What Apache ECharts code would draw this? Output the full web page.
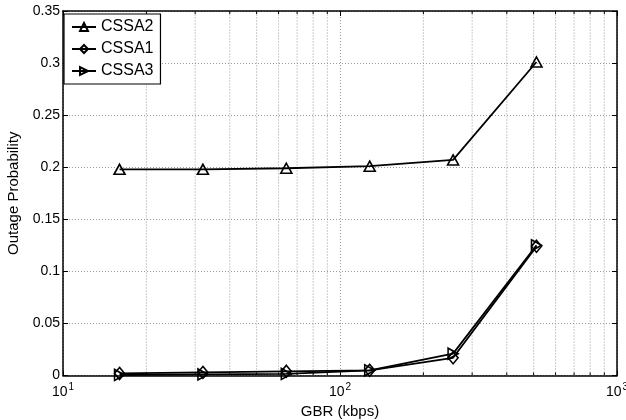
<!DOCTYPE html>
<html>
<head>
<meta charset="utf-8">
<script src="https://cdn.jsdelivr.net/npm/echarts@6/dist/echarts.min.js"></script>
<style>
  html, body { margin: 0; padding: 0; background: #fff; }
  #chart { width: 626px; height: 420px; }
</style>
</head>
<body>
<div id="chart"></div>
<script>
// Guaranteed bit rate values (kbps) on a log10 axis
const gbr = [16, 32, 64, 128, 256, 512];

// Outage probability per scheme
const cssa2 = [0.198, 0.198, 0.199, 0.201, 0.207, 0.301];
const cssa1 = [0.002, 0.003, 0.004, 0.005, 0.017, 0.124];
const cssa3 = [0.0005, 0.001, 0.0015, 0.005, 0.021, 0.125];

// Axis ranges and tick values
const xRange = [10, 1000];
const yRange = [0, 0.35];
const yStep = 0.05;
const minorX = [20, 30, 40, 50, 60, 70, 80, 90, 200, 300, 400, 500, 600, 700, 800, 900];

const FONT = 'Liberation Sans, Arial, Helvetica, sans-serif';
const BLACK = '#000';
const GRID_LINE = { color: '#9a9a9a', width: 1, type: [1, 2] };
const AXIS_LINE = { color: BLACK, width: 1.5 };

const pairs = (ys) => gbr.map((x, i) => [x, ys[i]]);

function lineSeries(name, ys, symbol, size, rotate) {
  return {
    name: name,
    type: 'line',
    data: pairs(ys),
    symbol: symbol,
    symbolSize: size,
    symbolRotate: rotate,
    showAllSymbol: true,
    z: 3,
    lineStyle: { color: BLACK, width: 1.8 },
    itemStyle: { color: 'rgba(255,255,255,0)', borderColor: BLACK, borderWidth: 1.6 },
    emphasis: { disabled: true },
    animation: false
  };
}

const chart = echarts.init(document.getElementById('chart'), null, { renderer: 'canvas' });

chart.setOption({
  backgroundColor: '#fff',
  animation: false,
  textStyle: { fontFamily: FONT, color: BLACK },
  grid: {
    left: 63, right: 9, top: 11, bottom: 44.5,
    containLabel: false,
    outerBoundsMode: 'none'
  },
  legend: {
    left: 64,
    top: 14,
    orient: 'vertical',
    data: ['CSSA2', 'CSSA1', 'CSSA3'],
    itemWidth: 24,
    itemHeight: 10,
    itemGap: 6,
    padding: [5, 7, 5, 7],
    backgroundColor: '#fff',
    borderColor: BLACK,
    borderWidth: 1.2,
    textStyle: { fontFamily: FONT, fontSize: 16, color: BLACK },
    selectedMode: false
  },
  xAxis: [
    {
      type: 'log',
      logBase: 10,
      min: xRange[0],
      max: xRange[1],
      position: 'bottom',
      name: 'GBR (kbps)',
      nameLocation: 'middle',
      nameGap: 20,
      nameTextStyle: { fontFamily: FONT, fontSize: 15, color: BLACK },
      axisLine: { onZero: false, lineStyle: AXIS_LINE },
      axisTick: { inside: true, length: 5, lineStyle: { color: BLACK } },
      axisLabel: {
        margin: 7,
        hideOverlap: false,
        formatter: (v) => '{b|10}{s|' + Math.round(Math.log10(v)) + '}',
        rich: {
          b: { fontFamily: FONT, fontSize: 14, color: BLACK },
          s: { fontFamily: FONT, fontSize: 10, color: BLACK, padding: [0, 0, 9, 1] }
        }
      },
      splitLine: { show: true, lineStyle: GRID_LINE }
    },
    {
      type: 'log',
      logBase: 10,
      min: xRange[0],
      max: xRange[1],
      position: 'top',
      axisLine: { onZero: false, lineStyle: AXIS_LINE },
      axisTick: { inside: true, length: 5, lineStyle: { color: BLACK } },
      axisLabel: { show: false },
      splitLine: { show: false }
    }
  ],
  yAxis: [
    {
      type: 'value',
      min: yRange[0],
      max: yRange[1],
      interval: yStep,
      position: 'left',
      name: 'Outage Probability',
      nameLocation: 'middle',
      nameGap: 35,
      nameTextStyle: { fontFamily: FONT, fontSize: 15, color: BLACK },
      axisLine: { show: true, onZero: false, lineStyle: AXIS_LINE },
      axisTick: { show: true, inside: true, length: 5, lineStyle: { color: BLACK } },
      axisLabel: {
        margin: 3,
        fontFamily: FONT,
        fontSize: 14,
        color: BLACK,
        formatter: (v) => String(+v.toFixed(2))
      },
      splitLine: { show: true, lineStyle: GRID_LINE }
    },
    {
      type: 'value',
      min: yRange[0],
      max: yRange[1],
      interval: yStep,
      position: 'right',
      axisLine: { show: true, onZero: false, lineStyle: AXIS_LINE },
      axisTick: { show: true, inside: true, length: 5, lineStyle: { color: BLACK } },
      axisLabel: { show: false },
      splitLine: { show: false }
    }
  ],
  series: [
    // minor log grid lines and the short minor ticks along the top and bottom edges
    {
      type: 'custom',
      xAxisIndex: 0,
      yAxisIndex: 0,
      silent: true,
      z: 1,
      data: minorX.map((v) => [v, yRange[0]]),
      renderItem: function (params, api) {
        const v = api.value(0);
        const lo = api.coord([v, yRange[0]]);
        const hi = api.coord([v, yRange[1]]);
        return {
          type: 'group',
          children: [
            {
              type: 'line',
              shape: { x1: lo[0], y1: lo[1], x2: hi[0], y2: hi[1] },
              style: { stroke: GRID_LINE.color, lineWidth: 1, lineDash: [1, 2] }
            },
            {
              type: 'line',
              shape: { x1: lo[0], y1: lo[1], x2: lo[0], y2: lo[1] - 3 },
              style: { stroke: BLACK, lineWidth: 1 }
            },
            {
              type: 'line',
              shape: { x1: hi[0], y1: hi[1], x2: hi[0], y2: hi[1] + 3 },
              style: { stroke: BLACK, lineWidth: 1 }
            }
          ]
        };
      },
      animation: false
    },
    lineSeries('CSSA2', cssa2, 'triangle', [11, 10], 0),
    lineSeries('CSSA1', cssa1, 'diamond', [10, 12], 0),
    lineSeries('CSSA3', cssa3, 'triangle', [11, 10], -90)
  ]
});
</script>
</body>
</html>
